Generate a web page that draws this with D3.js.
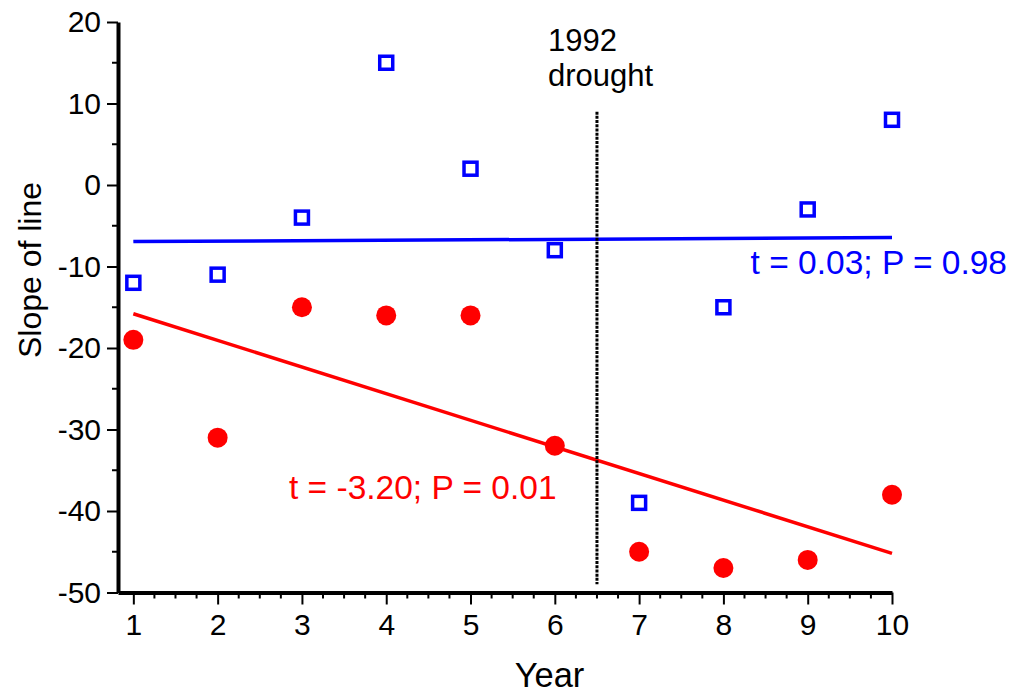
<!DOCTYPE html>
<html>
<head>
<meta charset="utf-8">
<script src="https://cdn.jsdelivr.net/npm/d3@7"></script>
<style>
  body { margin: 0; background: #fff; }
  text { font-family: "Liberation Sans", Arial, sans-serif; }
</style>
</head>
<body>
<div id="chart"></div>
<script>
// data
const years = [1, 2, 3, 4, 5, 6, 7, 8, 9, 10];
const blueSlopes = [-12, -11, -4, 15, 2, -8, -39, -15, -3, 8];
const redSlopes = [-19, -31, -15, -16, -16, -32, -45, -47, -46, -38];
const yTicks = [20, 10, 0, -10, -20, -30, -40, -50];
const droughtX = 6.5;
const droughtSpan = [9, -49];
const blueLabel = "t = 0.03; P = 0.98";
const redLabel = "t = -3.20; P = 0.01";

const width = 1016, height = 695;

const x = d3.scaleLinear([0.818, 10], [118, 892]);
const y = d3.scaleLinear([-50, 20], [592.5, 22]);

const svg = d3.select("#chart").append("svg")
    .attr("width", width)
    .attr("height", height);

// least squares fit, drawn over the range of the years
function fit(xs, ys) {
    const mx = d3.mean(xs), my = d3.mean(ys);
    const sxy = d3.sum(xs, (v, i) => (v - mx) * (ys[i] - my));
    const sxx = d3.sum(xs, v => (v - mx) * (v - mx));
    const b = sxy / sxx;
    const a = my - b * mx;
    return d3.extent(xs).map(v => [v, a + b * v]);
}

const line = d3.line().x(d => x(d[0])).y(d => y(d[1]));

svg.append("path")
    .datum(fit(years, blueSlopes))
    .attr("d", line)
    .attr("stroke", "#0000ff")
    .attr("stroke-width", 3.5)
    .attr("fill", "none");

svg.append("path")
    .datum(fit(years, redSlopes))
    .attr("d", line)
    .attr("stroke", "#ff0000")
    .attr("stroke-width", 3.5)
    .attr("fill", "none");

// drought marker
svg.append("line")
    .attr("x1", x(droughtX)).attr("x2", x(droughtX))
    .attr("y1", y(droughtSpan[0])).attr("y2", y(droughtSpan[1]))
    .attr("stroke", "#000")
    .attr("stroke-width", 3)
    .attr("stroke-dasharray", "3,1.2");

svg.append("text")
    .attr("x", 548).attr("y", 51)
    .attr("font-size", 31)
    .text("1992");
svg.append("text")
    .attr("x", 548).attr("y", 86)
    .attr("font-size", 31)
    .text("drought");

// points
svg.selectAll("circle.red")
    .data(years)
    .join("circle")
    .attr("class", "red")
    .attr("cx", d => x(d))
    .attr("cy", (d, i) => y(redSlopes[i]))
    .attr("r", 10)
    .attr("fill", "#ff0000");

svg.selectAll("rect.blue")
    .data(years)
    .join("rect")
    .attr("class", "blue")
    .attr("x", d => x(d) - 6.5)
    .attr("y", (d, i) => y(blueSlopes[i]) - 6.5)
    .attr("width", 13)
    .attr("height", 13)
    .attr("fill", "none")
    .attr("stroke", "#0000ff")
    .attr("stroke-width", 3.5);

// stat labels
svg.append("text")
    .attr("x", 1007).attr("y", 274)
    .attr("text-anchor", "end")
    .attr("font-size", 33.5)
    .attr("fill", "#0000ff")
    .text(blueLabel);

svg.append("text")
    .attr("x", 289).attr("y", 499)
    .attr("font-size", 33.5)
    .attr("fill", "#ff0000")
    .text(redLabel);

// axes
const yAxis = svg.append("g")
    .attr("transform", `translate(${x.range()[0]},0)`)
    .call(d3.axisLeft(y).tickValues(yTicks).tickFormat(d => String(d))
        .tickSize(11).tickPadding(6).tickSizeOuter(0));
yAxis.selectAll(".tick line").attr("stroke-width", 2);
yAxis.selectAll(".tick text").attr("font-size", 30).attr("fill", "#000");
yAxis.select(".domain").attr("stroke-width", 4);
yAxis.append("g").selectAll("line")
    .data(d3.range(-45, 20, 10))
    .join("line")
    .attr("x1", -6).attr("x2", 0)
    .attr("y1", d => y(d)).attr("y2", d => y(d))
    .attr("stroke", "#000").attr("stroke-width", 2);

const xAxis = svg.append("g")
    .attr("transform", `translate(0,${y.range()[0]})`)
    .call(d3.axisBottom(x).tickValues(years).tickSize(12).tickPadding(9).tickSizeOuter(0));
xAxis.selectAll(".tick line").attr("stroke-width", 2);
xAxis.selectAll(".tick text").attr("font-size", 30).attr("fill", "#000");
xAxis.select(".domain").attr("stroke-width", 4);
xAxis.append("g").selectAll("line")
    .data(d3.range(1, 10, 0.25).filter(v => v % 1 !== 0))
    .join("line")
    .attr("x1", d => x(d)).attr("x2", d => x(d))
    .attr("y1", 0).attr("y2", 6)
    .attr("stroke", "#000").attr("stroke-width", 2);

// axis titles
svg.append("text")
    .attr("x", 549.5).attr("y", 687)
    .attr("text-anchor", "middle")
    .attr("font-size", 34.5)
    .text("Year");

svg.append("text")
    .attr("transform", "translate(41,270) rotate(-90)")
    .attr("text-anchor", "middle")
    .attr("font-size", 32)
    .text("Slope of line");
</script>
</body>
</html>
